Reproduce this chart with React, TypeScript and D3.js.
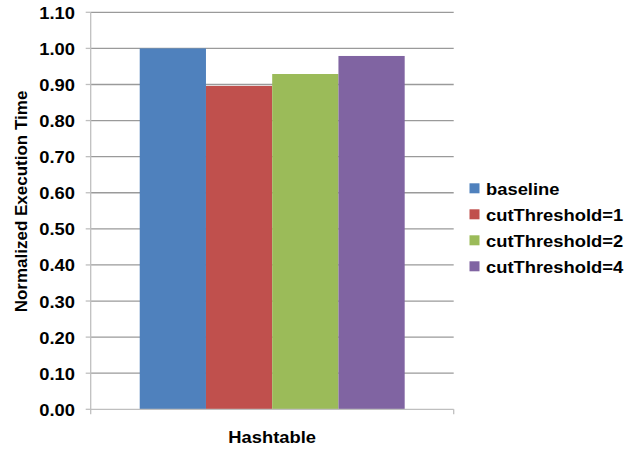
import React from "react";
import * as d3 from "d3";

const categories = ["Hashtable"];
const seriesNames = ["baseline", "cutThreshold=1", "cutThreshold=2", "cutThreshold=4"];
const seriesValues = [[1.0], [0.896], [0.929], [0.979]];
const seriesColors = ["#4F81BD", "#C0504D", "#9BBB59", "#8064A2"];
const yTicks = [0, 0.1, 0.2, 0.3, 0.4, 0.5, 0.6, 0.7, 0.8, 0.9, 1.0, 1.1];

const W = 641;
const H = 450;
const plot = { left: 90.7, right: 453.7, top: 12.3, bottom: 409.3 };
const FONT = "'Liberation Sans', Arial, sans-serif";
const SX = 1.08; // horizontal stretch of text

function SText({ x, y, anchor = "start", children }: any) {
  return (
    <g transform={`translate(${x},${y}) scale(${SX},1)`}>
      <text x={0} y={0} textAnchor={anchor} fontFamily={FONT} fontWeight="bold" fontSize={17} fill="#000">
        {children}
      </text>
    </g>
  );
}

export default function App() {
  const y = d3.scaleLinear().domain([0, 1.1]).range([plot.bottom, plot.top]);
  const x0 = d3
    .scaleBand<string>()
    .domain(categories)
    .range([plot.left, plot.right])
    .paddingInner(0)
    .paddingOuter(0.185);
  const x1 = d3
    .scaleBand<string>()
    .domain(seriesNames)
    .range([0, x0.bandwidth()])
    .padding(0);

  return (
    <svg width={W} height={H} style={{ position: "absolute", left: 0, top: 0 }}>
      <rect x={0} y={0} width={W} height={H} fill="#fff" />
      {/* gridlines */}
      {yTicks.slice(1).map((t) => (
        <line key={t} x1={plot.left} x2={plot.right} y1={y(t)} y2={y(t)} stroke="#9a9a9a" strokeWidth={1.3} />
      ))}
      {/* bars */}
      {categories.map((c, ci) => (
        <g key={c}>
          {seriesNames.map((s, si) => (
            <rect
              key={s}
              x={(x0(c) as number) + (x1(s) as number)}
              y={y(seriesValues[si][ci])}
              width={x1.bandwidth()}
              height={plot.bottom - y(seriesValues[si][ci])}
              fill={seriesColors[si]}
            />
          ))}
        </g>
      ))}
      {/* axes */}
      <line x1={plot.left} x2={plot.left} y1={plot.top} y2={plot.bottom + 5} stroke="#bfbfbf" strokeWidth={1.3} />
      <line x1={plot.left} x2={plot.right} y1={plot.bottom} y2={plot.bottom} stroke="#bfbfbf" strokeWidth={1.3} />
      <line x1={plot.right} x2={plot.right} y1={plot.bottom} y2={plot.bottom + 5} stroke="#bfbfbf" strokeWidth={1.3} />
      {yTicks.map((t) => (
        <g key={t}>
          <line x1={plot.left - 5} x2={plot.left} y1={y(t)} y2={y(t)} stroke="#bfbfbf" strokeWidth={1.3} />
          <SText x={75} y={y(t) + 6.5} anchor="end">
            {d3.format(".2f")(t)}
          </SText>
        </g>
      ))}
      {/* category label */}
      {categories.map((c) => (
        <SText key={c} x={(x0(c) as number) + x0.bandwidth() / 2} y={443} anchor="middle">
          {c}
        </SText>
      ))}
      {/* y axis title */}
      <text
        transform={`translate(27,201.5) rotate(-90)`}
        textAnchor="middle"
        fontFamily={FONT}
        fontWeight="bold"
        fontSize={17}
        fill="#000"
      >
        Normalized Execution Time
      </text>
      {/* legend */}
      {seriesNames.map((s, i) => (
        <g key={s}>
          <rect x={469.5} y={183.3 + i * 26} width={10} height={10} fill={seriesColors[i]} />
          <SText x={486} y={194.8 + i * 26}>
            {s}
          </SText>
        </g>
      ))}
    </svg>
  );
}
